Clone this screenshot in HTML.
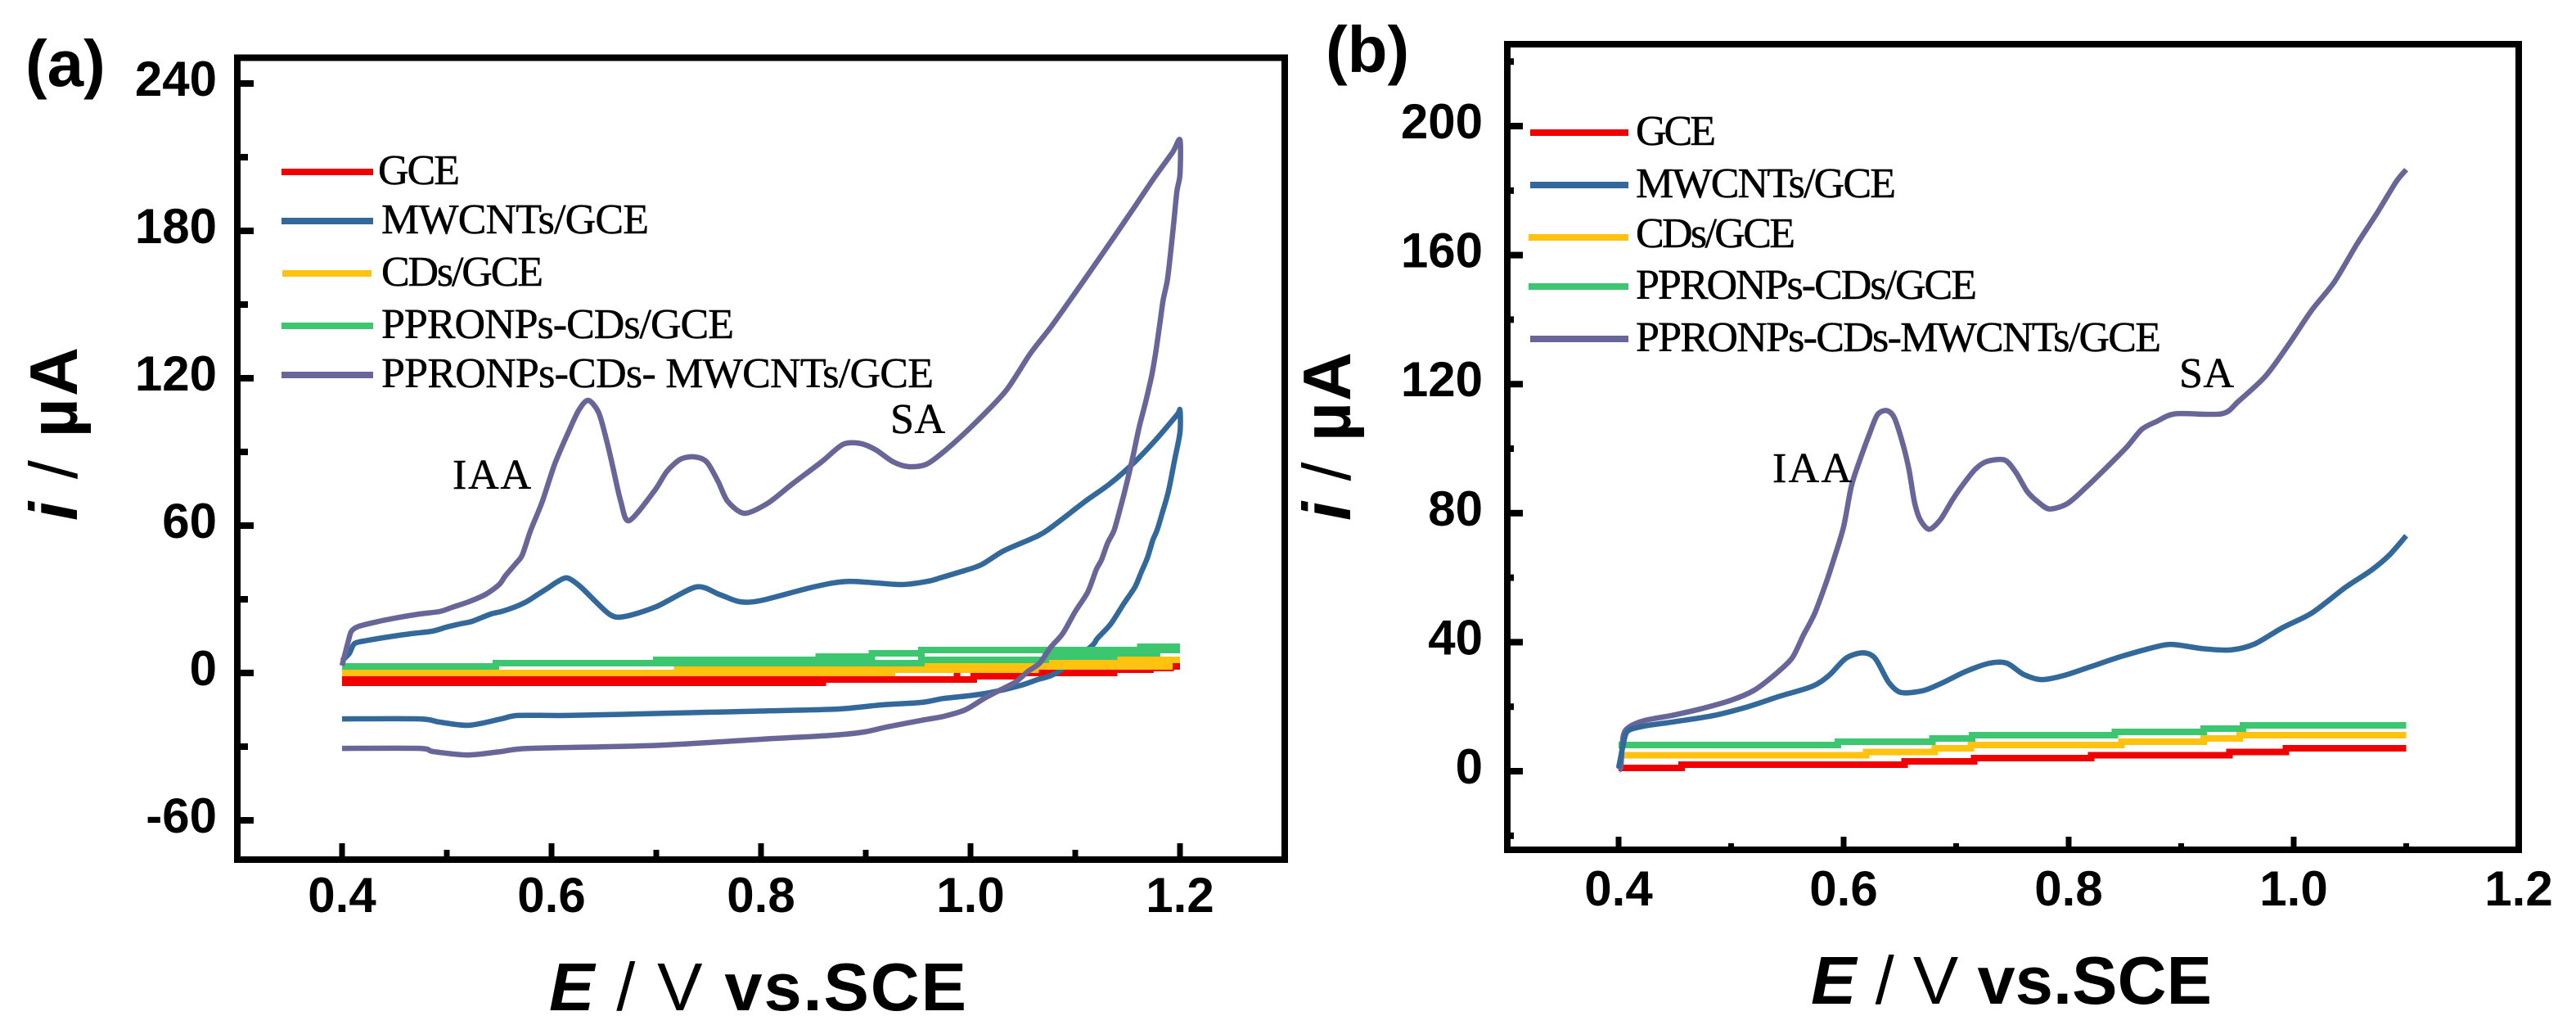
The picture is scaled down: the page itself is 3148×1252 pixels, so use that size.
<!DOCTYPE html>
<html lang="en">
<head>
<meta charset="utf-8">
<title>Cyclic and linear sweep voltammograms</title>
<style>
html,body{margin:0;padding:0;background:#fff;}
svg{display:block;}
.sans{font-family:"Liberation Sans",Arial,sans-serif;}
.serif{font-family:"Liberation Serif","Times New Roman",serif;fill:#000;stroke:#000;stroke-width:.5px;}
.lab{font-size:52px;}
.tick{font-family:"Liberation Sans",Arial,sans-serif;font-size:60px;font-weight:700;fill:#000;}
.title{font-family:"Liberation Sans",Arial,sans-serif;font-size:83px;font-weight:700;fill:#000;}
.panel{font-family:"Liberation Sans",Arial,sans-serif;font-size:80px;font-weight:700;fill:#000;}
</style>
</head>
<body>
<svg id="figure" xmlns="http://www.w3.org/2000/svg" width="3148" height="1252" viewBox="0 0 3148 1252">
  <rect width="3148" height="1252" fill="#fff"/>

  <g id="chart-a"></g>
  <g id="chart-b"></g>

  <text class="panel" x="31" y="105">(a)</text>
  <text class="panel" x="1620" y="88">(b)</text>

  <text class="title" x="671" y="1234" textLength="510" lengthAdjust="spacing"><tspan font-style="italic">E</tspan><tspan font-weight="400"> / V </tspan>vs.SCE</text>
  <text class="title" x="2213" y="1226" textLength="490" lengthAdjust="spacing"><tspan font-style="italic">E</tspan><tspan font-weight="400"> / V </tspan>vs.SCE</text>
  <text class="title" transform="translate(94 636) rotate(-90)" textLength="212" lengthAdjust="spacing"><tspan font-style="italic">i</tspan><tspan font-weight="400"> / </tspan>µA</text>
  <text class="title" transform="translate(1650 636) rotate(-90)" textLength="206" lengthAdjust="spacing"><tspan font-style="italic">i</tspan><tspan font-weight="400"> / </tspan>µA</text>

  <g>
    <rect x="344" y="206" width="112" height="8" fill="#f00000"/>
    <text class="serif lab" x="462" y="225" textLength="100" lengthAdjust="spacing">GCE</text>
    <rect x="344" y="266" width="112" height="8" fill="#33689b"/>
    <text class="serif lab" x="466" y="285" textLength="327" lengthAdjust="spacing">MWCNTs/GCE</text>
    <rect x="345" y="330" width="109" height="8" fill="#ffc20e"/>
    <text class="serif lab" x="466" y="349" textLength="198" lengthAdjust="spacing">CDs/GCE</text>
    <rect x="344" y="394" width="112" height="8" fill="#3dc670"/>
    <text class="serif lab" x="466" y="413" textLength="431" lengthAdjust="spacing">PPRONPs-CDs/GCE</text>
    <rect x="344" y="454" width="112" height="8" fill="#686698"/>
    <text class="serif lab" x="466" y="473" textLength="675" lengthAdjust="spacing">PPRONPs-CDs- MWCNTs/GCE</text>
  </g>
  <text class="serif lab" x="553" y="597" textLength="96" lengthAdjust="spacing">IAA</text>
  <text class="serif lab" x="1088" y="529" textLength="67" lengthAdjust="spacing">SA</text>

  <g>
    <rect x="1870" y="158" width="120" height="8" fill="#f00000"/>
    <text class="serif lab" x="1999" y="177" textLength="98" lengthAdjust="spacing">GCE</text>
    <rect x="1870" y="222" width="120" height="8" fill="#33689b"/>
    <text class="serif lab" x="1999" y="241" textLength="318" lengthAdjust="spacing">MWCNTs/GCE</text>
    <rect x="1868" y="286" width="122" height="8" fill="#ffc20e"/>
    <text class="serif lab" x="1999" y="302" textLength="195" lengthAdjust="spacing">CDs/GCE</text>
    <rect x="1868" y="346" width="122" height="8" fill="#3dc670"/>
    <text class="serif lab" x="1999" y="365" textLength="417" lengthAdjust="spacing">PPRONPs-CDs/GCE</text>
    <rect x="1870" y="410" width="120" height="8" fill="#686698"/>
    <text class="serif lab" x="1999" y="429" textLength="642" lengthAdjust="spacing">PPRONPs-CDs-MWCNTs/GCE</text>
  </g>
  <text class="serif lab" x="2166" y="589" textLength="97" lengthAdjust="spacing">IAA</text>
  <text class="serif lab" x="2663" y="473" textLength="67" lengthAdjust="spacing">SA</text>
</svg>

<script>
// ---------- Panel (a) tick labels ----------
var aXMajor = [0.4, 0.6, 0.8, 1.0, 1.2];
var aXMinor = [0.5, 0.7, 0.9, 1.1];
var aYMajor = [-60, 0, 60, 120, 180, 240];
var aYMinor = [-30, 30, 90, 150, 210];

// ---------- Panel (a) series (potential V, current uA), sweep order ----------
var aCompositeV = [0.4,0.403,0.406,0.409,0.416,0.435,0.454,0.474,0.493,0.505,0.521,0.537,0.55,0.556,0.566,0.572,0.58,0.591,0.603,0.616,0.626,0.635,0.645,0.653,0.659,0.666,0.674,0.698,0.71,0.723,0.736,0.748,0.759,0.768,0.784,0.806,0.83,0.858,0.878,0.894,0.909,0.926,0.941,0.958,0.977,1.005,1.034,1.057,1.077,1.097,1.113,1.137,1.157,1.176,1.193,1.2,1.2,1.197,1.194,1.191,1.188,1.184,1.181,1.177,1.173,1.167,1.161,1.155,1.149,1.143,1.137,1.131,1.125,1.12,1.112,1.1,1.088,1.077,1.066,1.055,1.043,1.028,1.013,0.995,0.974,0.953,0.92,0.899,0.87,0.8,0.7,0.579,0.552,0.52,0.487,0.474,0.4];
var aCompositeI = [3,8,13,17,19,21,22.6,24,25,26.7,29,32,36,39.6,44.6,48,58,69.6,85,98,107,111,106,94,83,70,62,74,82,87,88,86,78,70,65,69,77,86,93,93.5,91,86,84,85,91,102,115,130,141,153,162.7,177.5,190,202,212,217,203,196,183,171,160,152,143,131,121,110,100,88,77,67,58,53,46,42,33,25,16,10.7,4,0.7,-3.7,-7,-10.4,-15,-17.7,-19.3,-22,-24,-25.3,-27,-29.5,-30.7,-32,-33.4,-32,-30.7,-30.7];

var aMwcntV = [0.4,0.407,0.412,0.425,0.446,0.466,0.486,0.5,0.513,0.524,0.542,0.552,0.564,0.576,0.587,0.597,0.605,0.615,0.628,0.655,0.67,0.7,0.738,0.76,0.78,0.8,0.85,0.884,0.933,0.959,0.971,0.989,1.01,1.031,1.058,1.073,1.109,1.133,1.157,1.177,1.197,1.2,1.2,1.195,1.189,1.183,1.178,1.174,1.169,1.163,1.157,1.146,1.134,1.121,1.115,1.082,1.064,1.046,1.019,0.998,0.974,0.953,0.915,0.873,0.8,0.7,0.615,0.568,0.552,0.521,0.493,0.474,0.4];
var aMwcntI = [5,8,12,13.3,14.8,16,17,18.7,20,21,24,25,26.7,29,32,34.7,37,38.7,35,24,23,27,35,32,29,29.5,35,37.3,36,37.3,38.7,41,44,49.6,54.6,58,69.7,77,86,95,105,107,98,87,74,65,58,54,47,41,35,28,20,14,10.7,0,-2.7,-5.3,-8,-9.3,-10.4,-12,-13,-14.7,-15.5,-16.5,-17.3,-17.3,-18.7,-21.3,-20,-18.7,-18.7];

var aGceForwardV = [0.4,0.987,1.2];
var aGceForwardI = [-2.7,2.7,2.7];
var aGceReverseV = [1.2,1.191,1.172,1.137,1.046,1.003,0.859,0.4];
var aGceReverseI = [3.3,2,1.3,0,-1.3,-2.7,-4,-4];

var aCdsForwardV = [0.4,0.72,0.953,1.062,1.137,1.2];
var aCdsForwardI = [0,1.3,2.7,4,5.3,5.3];
var aCdsReverseV = [1.2,1.19,1.062,0.925,0.4];
var aCdsReverseI = [5.3,2.7,1.3,0,0];

var aPpronForwardV = [0.4,0.547,0.7,0.855,0.906,0.953,1.162,1.2];
var aPpronForwardI = [2.7,4,5.3,6.7,8,9.3,10.7,10.7];
var aPpronReverseV = [1.2,1.197,1.178,1.137,1.072,0.953,0.547,0.4];
var aPpronReverseI = [10.7,9.3,8,6.7,5.3,4,2.7,2.7];

// ---------- Panel (b) tick labels ----------
var bXMajor = [0.4, 0.6, 0.8, 1.0, 1.2];
var bXMinor = [0.5, 0.7, 0.9, 1.1];
var bYMajor = [0, 40, 80, 120, 160, 200];
var bYMinor = [-20, 20, 60, 100, 140, 180, 220];

// ---------- Panel (b) series ----------
var bCompositeV = [0.4,0.402,0.404,0.409,0.423,0.449,0.475,0.5,0.52,0.538,0.554,0.564,0.574,0.584,0.592,0.6,0.607,0.615,0.623,0.63,0.638,0.645,0.653,0.658,0.663,0.668,0.676,0.686,0.697,0.707,0.717,0.727,0.743,0.753,0.763,0.773,0.783,0.799,0.817,0.837,0.852,0.865,0.878,0.895,0.936,0.951,0.975,0.995,1.016,1.036,1.056,1.074,1.091,1.1];
var bCompositeI = [0.5,1.4,10.7,13.6,15.7,17.4,19.5,22,25,29.7,35,42,48.7,58,66.5,75.8,88.5,97,104.6,110.5,111.8,109.6,101,93.6,83.4,78,75,78,84.3,89.3,93.6,96,96.5,92.7,86.8,83.4,81.3,83,88.5,95.3,100.6,106,108.4,110.8,110.8,114.7,122.5,132,142.9,151.6,163.3,173,182.7,186.5];

var bMwcntV = [0.4,0.404,0.408,0.423,0.449,0.485,0.515,0.541,0.572,0.587,0.602,0.617,0.628,0.64,0.651,0.671,0.689,0.709,0.73,0.745,0.76,0.776,0.796,0.822,0.847,0.878,0.893,0.919,0.944,0.965,0.99,1.016,1.046,1.069,1.085,1.1];
var bMwcntI = [1,8,12.4,14,15.3,17.3,20,23,26.3,29.7,35,36.7,35,27.6,24.4,25,27.6,31,33.5,33.5,30,28.4,29.7,32.7,35.6,38.6,39.3,38,37.6,39.4,44.5,49,57,62.3,67,73];

var bGceV = [0.4,0.456,0.654,0.716,0.82,0.943,0.993,1.1];
var bGceI = [1,2,3,4,5,6,7.1,7.1];
var bCdsV = [0.4,0.62,0.681,0.713,0.847,0.92,0.952,1.1];
var bCdsI = [5,6,7.1,8.1,9.1,10.2,11.2,11.2];
var bPpronV = [0.4,0.595,0.679,0.714,0.841,0.92,0.955,1.1];
var bPpronI = [8.1,9.1,10.2,11.2,12.2,13.2,14.2,14.2];

// ---------- Drawing ----------
var SVG_NS = 'http://www.w3.org/2000/svg';
var COLORS = {gce:'#f00000', mwcnt:'#33689b', cds:'#ffc20e', ppron:'#3dc670', composite:'#686698'};

function scaleA() {
  return {
    x: function (v) { return 418 + (v - 0.4) * 1280; },
    y: function (i) { return 822 - i * 3; },
    left: 290, right: 1570, top: 70.5, bottom: 1050,
    yLabelX: 265, xLabelY: 1114,
    xMajorLen: 16, xMinorLen: 8, yMajorLen: 16, yMinorLen: 9, frame: 8
  };
}
function scaleB() {
  return {
    x: function (v) { return 1978 + (v - 0.4) * 1375; },
    y: function (i) { return 942 - i * 3.94; },
    left: 1842, right: 3078, top: 54, bottom: 1038,
    yLabelX: 1812, xLabelY: 1106,
    xMajorLen: 12, xMinorLen: 4, yMajorLen: 15, yMinorLen: 4, frame: 8
  };
}

function line(parent, x1, y1, x2, y2, width, name) {
  var el = document.createElementNS(SVG_NS, 'line');
  el.setAttribute('x1', x1);
  el.setAttribute('y1', y1);
  el.setAttribute('x2', x2);
  el.setAttribute('y2', y2);
  el.setAttribute('stroke', '#000');
  el.setAttribute('stroke-width', width);
  
  
  parent.appendChild(el);
}

function label(parent, x, y, anchor, str, name) {
  var el = document.createElementNS(SVG_NS, 'text');
  el.setAttribute('x', x);
  el.setAttribute('y', y);
  el.setAttribute('text-anchor', anchor);
  el.setAttribute('class', 'tick');
  
  
  el.textContent = str;
  parent.appendChild(el);
}

function drawAxes(parent, s, xMajor, xMinor, yMajor, yMinor, suffix) {
  var inner = s.bottom - s.frame / 2;
  var innerL = s.left + s.frame / 2;
  xMajor.forEach(function (v) {
    line(parent, s.x(v), inner, s.x(v), inner - s.xMajorLen, 7, 'x-tick-major-' + suffix);
    label(parent, s.x(v), s.xLabelY, 'middle', v.toFixed(1), 'x-tick-label-' + suffix);
  });
  xMinor.forEach(function (v) {
    line(parent, s.x(v), inner, s.x(v), inner - s.xMinorLen, 7, 'x-tick-minor-' + suffix);
  });
  yMajor.forEach(function (i) {
    line(parent, innerL, s.y(i), innerL + s.yMajorLen, s.y(i), 8, 'y-tick-major-' + suffix);
    label(parent, s.yLabelX, s.y(i) + 15, 'end', String(i), 'y-tick-label-' + suffix);
  });
  yMinor.forEach(function (i) {
    line(parent, innerL, s.y(i), innerL + s.yMinorLen, s.y(i), 8, 'y-tick-minor-' + suffix);
  });
  var frame = document.createElementNS(SVG_NS, 'rect');
  frame.setAttribute('x', s.left);
  frame.setAttribute('y', s.top);
  frame.setAttribute('width', s.right - s.left);
  frame.setAttribute('height', s.bottom - s.top);
  frame.setAttribute('fill', 'none');
  frame.setAttribute('stroke', '#000');
  frame.setAttribute('stroke-width', s.frame);
  
  
  parent.appendChild(frame);
}

function curve(parent, s, vs, is, color, width, name) {
  var px = vs.map(function (v) { return s.x(v); });
  var py = is.map(function (i) { return s.y(i); });
  var n = px.length;
  var k = 0.14;
  var d = 'M' + px[0].toFixed(1) + ' ' + py[0].toFixed(1);
  for (var j = 0; j < n - 1; j++) {
    var p0 = Math.max(j - 1, 0);
    var p3 = Math.min(j + 2, n - 1);
    var c1x = px[j] + (px[j + 1] - px[p0]) * k;
    var c1y = py[j] + (py[j + 1] - py[p0]) * k;
    var c2x = px[j + 1] - (px[p3] - px[j]) * k;
    var c2y = py[j + 1] - (py[p3] - py[j]) * k;
    d += 'C' + c1x.toFixed(1) + ' ' + c1y.toFixed(1) + ' ' + c2x.toFixed(1) + ' ' + c2y.toFixed(1) + ' ' + px[j + 1].toFixed(1) + ' ' + py[j + 1].toFixed(1);
  }
  var el = document.createElementNS(SVG_NS, 'path');
  el.setAttribute('d', d);
  el.setAttribute('fill', 'none');
  el.setAttribute('stroke', color);
  el.setAttribute('stroke-width', width);
  el.setAttribute('stroke-linejoin', 'round');
  
  
  parent.appendChild(el);
}

function stepCurve(parent, s, vs, is, color, name) {
  var d = 'M' + s.x(vs[0]).toFixed(1) + ' ' + s.y(is[0]).toFixed(1);
  for (var k = 1; k < vs.length; k++) {
    d += 'H' + s.x(vs[k]).toFixed(1) + 'V' + s.y(is[k]).toFixed(1);
  }
  var el = document.createElementNS(SVG_NS, 'path');
  el.setAttribute('d', d);
  el.setAttribute('fill', 'none');
  el.setAttribute('stroke', color);
  el.setAttribute('stroke-width', 8);
  el.setAttribute('shape-rendering', 'crispEdges');
  
  
  parent.appendChild(el);
}

var gA = document.getElementById('chart-a');
var sA = scaleA();
stepCurve(gA, sA, aGceForwardV, aGceForwardI, COLORS.gce, 'gce-forward-a');
stepCurve(gA, sA, aGceReverseV, aGceReverseI, COLORS.gce, 'gce-reverse-a');
curve(gA, sA, aMwcntV, aMwcntI, COLORS.mwcnt, 6.5, 'mwcnts-curve-a');
stepCurve(gA, sA, aCdsForwardV, aCdsForwardI, COLORS.cds, 'cds-forward-a');
stepCurve(gA, sA, aCdsReverseV, aCdsReverseI, COLORS.cds, 'cds-reverse-a');
stepCurve(gA, sA, aPpronForwardV, aPpronForwardI, COLORS.ppron, 'ppronps-forward-a');
stepCurve(gA, sA, aPpronReverseV, aPpronReverseI, COLORS.ppron, 'ppronps-reverse-a');
curve(gA, sA, aCompositeV, aCompositeI, COLORS.composite, 6.5, 'composite-curve-a');
drawAxes(gA, sA, aXMajor, aXMinor, aYMajor, aYMinor, 'a');

var gB = document.getElementById('chart-b');
var sB = scaleB();
stepCurve(gB, sB, bGceV, bGceI, COLORS.gce, 'gce-curve-b');
stepCurve(gB, sB, bCdsV, bCdsI, COLORS.cds, 'cds-curve-b');
stepCurve(gB, sB, bPpronV, bPpronI, COLORS.ppron, 'ppronps-curve-b');
curve(gB, sB, bCompositeV, bCompositeI, COLORS.composite, 6.5, 'composite-curve-b');
curve(gB, sB, bMwcntV, bMwcntI, COLORS.mwcnt, 6.5, 'mwcnts-curve-b');
drawAxes(gB, sB, bXMajor, bXMinor, bYMajor, bYMinor, 'b');
</script>
</body>
</html>
